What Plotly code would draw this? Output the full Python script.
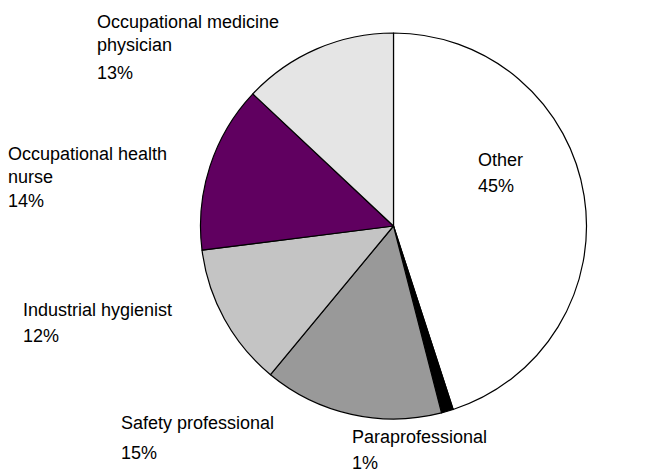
import plotly.graph_objects as go

# Data (clockwise from 12 o'clock)
categories = ["Other", "Paraprofessional", "Safety professional",
              "Industrial hygienist", "Occupational health nurse",
              "Occupational medicine physician"]
label_lines = ["Other", "Paraprofessional", "Safety professional",
               "Industrial hygienist", "Occupational health<br>nurse",
               "Occupational medicine<br>physician"]
percents = [45, 1, 15, 12, 14, 13]
colors = ["#ffffff", "#000000", "#999999", "#c4c4c4", "#600060", "#e5e5e5"]

W, H = 649, 470

# label layout: left x, top y of name block, top y of percent line (pixels)
name_pos = [(476, 148), (350, 425), (119, 411), (21, 298), (6, 142), (95, 10)]
pct_top = [174, 451, 441, 324, 189, 61]

fig = go.Figure(go.Pie(
    labels=categories,
    values=percents,
    sort=False,
    direction="clockwise",
    rotation=0,
    marker=dict(colors=colors, line=dict(color="#000000", width=1.2)),
    textinfo="none",
    hoverinfo="label+percent",
    showlegend=False,
    domain=dict(x=[200.5 / W, 586.5 / W], y=[(H - 419) / H, (H - 33) / H]),
))

font = dict(family="Liberation Sans, Arial, sans-serif", size=18, color="#000000")
for txt, p, (px, py), pt in zip(label_lines, percents, name_pos, pct_top):
    fig.add_annotation(
        x=px / W, y=1 - py / H, xref="paper", yref="paper",
        xanchor="left", yanchor="top", align="left",
        text=txt, showarrow=False, font=font,
    )
    fig.add_annotation(
        x=px / W, y=1 - pt / H, xref="paper", yref="paper",
        xanchor="left", yanchor="top", align="left",
        text=f"{p}%", showarrow=False, font=font,
    )

fig.update_layout(
    width=W, height=H,
    margin=dict(l=0, r=0, t=0, b=0),
    paper_bgcolor="#ffffff",
    plot_bgcolor="#ffffff",
)

fig.write_html("out.html", config={"displayModeBar": False},
               post_script="document.body.style.margin='0px';")
